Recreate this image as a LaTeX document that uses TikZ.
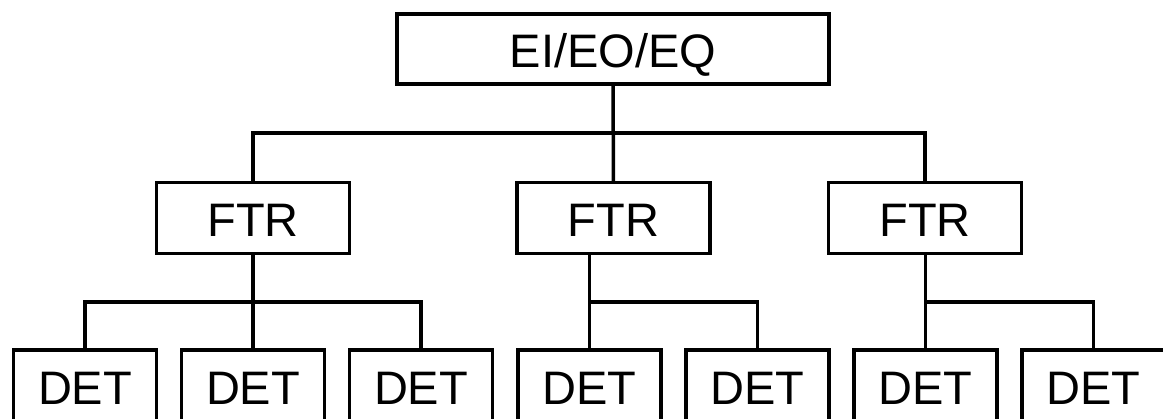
\documentclass[tikz,border=0pt]{standalone}
\usepackage{fontspec}
\setmainfont{Liberation Sans}
\begin{document}
\begin{tikzpicture}[x=1pt,y=-1pt,
  box/.style={draw=black, line width=3.5pt, inner sep=0pt, outer sep=0pt,
    font=\fontsize{47}{50}\selectfont, text height=38pt, text depth=0pt},
  topbox/.style={box, minimum width=432pt, minimum height=70pt},
  ftrbox/.style={box, minimum width=193pt, minimum height=71pt},
  detbox/.style={box, minimum width=143pt, minimum height=72pt},
  link/.style={draw=black, line width=3.5pt}]
  \useasboundingbox (0,0) rectangle (1163,419);
  \fill[white] (0,0) rectangle (1163,419);
  \clip (0,0) rectangle (1163,419);

  % top level
  \node[topbox] (top) at (613,49) {EI/EO/EQ};

  % second level
  \node[ftrbox] (f1) at (253,218) {FTR};
  \node[ftrbox] (f2) at (613.5,218) {FTR};
  \node[ftrbox] (f3) at (925,218) {FTR};

  % third level
  \node[detbox] (d1) at (85,386) {DET};
  \node[detbox] (d2) at (253,386) {DET};
  \node[detbox] (d3) at (421,386) {DET};
  \node[detbox] (d4) at (589.5,386) {DET};
  \node[detbox] (d5) at (757.5,386) {DET};
  \node[detbox] (d6) at (925.5,386) {DET};
  \node[detbox] (d7) at (1093.5,386) {DET};

  % heights of the horizontal bars
  \coordinate (b0) at (0,133);
  \coordinate (b1) at (0,302);

  % top -> FTR
  \draw[link] (top.south) -- (f2.north);
  \draw[link] (f1.north) |- (b0 -| f3.north) -- (f3.north);

  % FTR 1 -> DET
  \draw[link] (f1.south) -- (d2.north);
  \draw[link] (d1.north) |- (b1 -| d3.north) -- (d3.north);

  % FTR 2 -> DET
  \draw[link] (f2.south -| d4.north) -- (d4.north);
  \draw[link] (b1 -| d4.north) -| (d5.north);

  % FTR 3 -> DET
  \draw[link] (f3.south -| d6.north) -- (d6.north);
  \draw[link] (b1 -| d6.north) -| (d7.north);
\end{tikzpicture}
\end{document}
